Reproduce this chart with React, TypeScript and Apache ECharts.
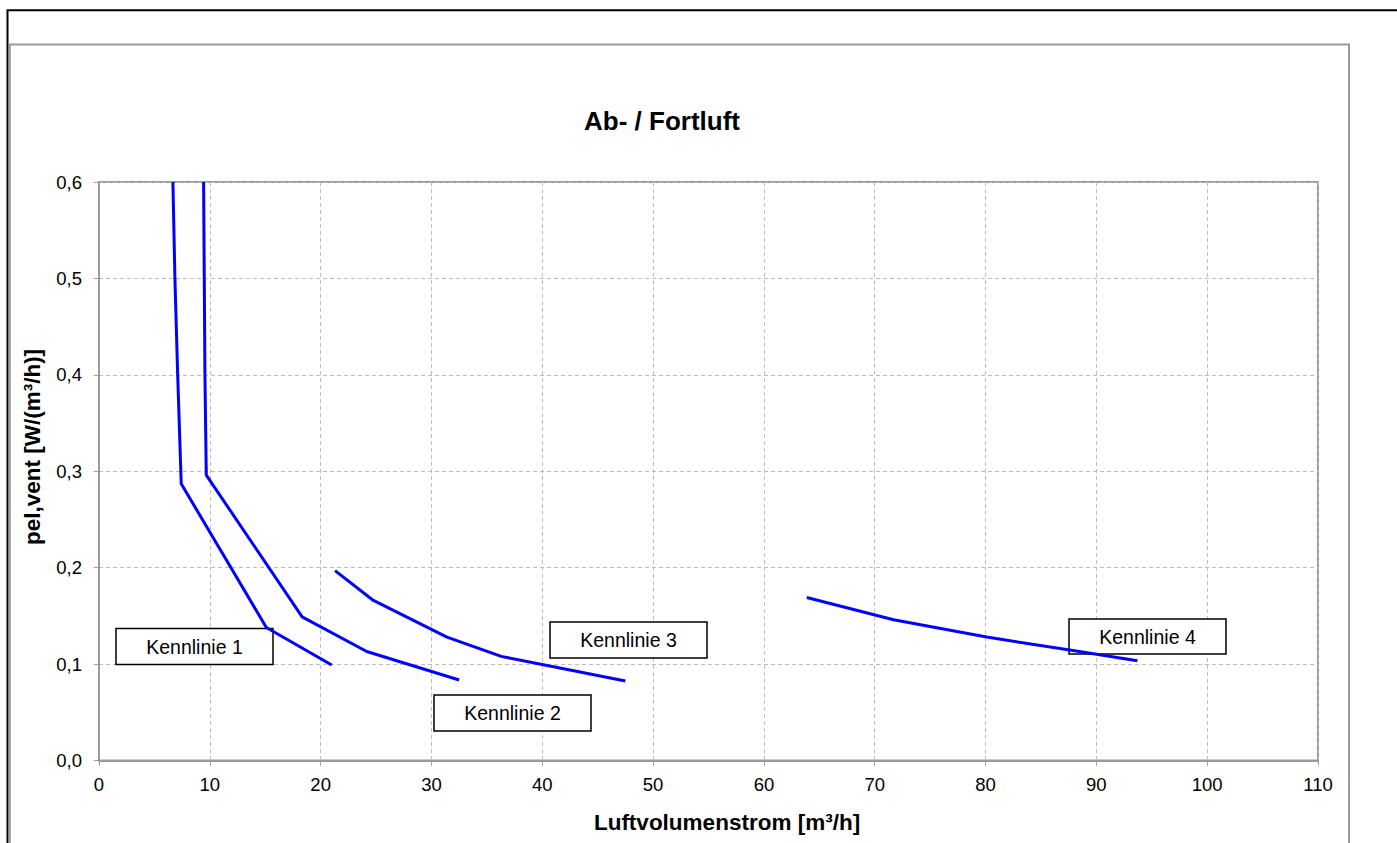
import React, { useEffect, useRef } from "react";
import * as echarts from "echarts";

const FONT = "'Liberation Sans', Arial, sans-serif";

const TITLE = "Ab- / Fortluft";
const X_NAME = "Luftvolumenstrom [m³/h]";
const Y_NAME = "pel,vent [W/(m³/h)]";

const kennlinie1: [number, number][] = [
  [6.67, 0.6], [6.85, 0.5], [7.1, 0.4], [7.42, 0.287], [15.1, 0.138], [21.0, 0.099],
];
const kennlinie2: [number, number][] = [
  [9.44, 0.6], [9.5, 0.5], [9.56, 0.4], [9.68, 0.296], [18.33, 0.149], [24.16, 0.113], [32.5, 0.0835],
];
const kennlinie3: [number, number][] = [
  [21.3, 0.197], [24.76, 0.166], [31.4, 0.128], [36.3, 0.108], [41.7, 0.0956], [47.5, 0.0825],
];
const kennlinie4: [number, number][] = [
  [63.87, 0.169], [71.7, 0.146], [80.1, 0.128], [87.6, 0.1146], [93.7, 0.1035],
];

const labelNames = ["Kennlinie 1", "Kennlinie 2", "Kennlinie 3", "Kennlinie 4"];
const labelBoxes = [
  { x: 116, y: 628.5, w: 157, h: 36 },
  { x: 434, y: 695, w: 157, h: 36 },
  { x: 550, y: 622, w: 157, h: 36 },
  { x: 1069, y: 619, w: 157, h: 35 },
];

export default function App() {
  const ref = useRef<HTMLDivElement>(null);
  useEffect(() => {
    if (!ref.current) return;
    const chart = echarts.init(ref.current, undefined, { renderer: "svg" });
    const lineSeries = (name: string, data: [number, number][]) => ({
      name,
      type: "line",
      data,
      showSymbol: false,
      symbol: "none",
      z: 5,
      lineStyle: { color: "#0000ff", width: 3 },
      clip: true,
    });
    const labelGraphics = labelNames.map((t, i) => {
      const b = labelBoxes[i];
      return {
        type: "group",
        x: b.x,
        y: b.y,
        z: 1,
        children: [
          {
            type: "rect",
            z: 1,
            shape: { x: 0, y: 0, width: b.w, height: b.h },
            style: { fill: "#fff", stroke: "#000", lineWidth: 1.5 },
          },
          {
            type: "text",
            z: 1,
            x: b.w / 2,
            y: b.h / 2,
            style: {
              text: t,
              fontFamily: FONT,
              fontSize: 19.5,
              fill: "#000",
              align: "center",
              verticalAlign: "middle",
            },
          },
        ],
      };
    });
    chart.setOption({
      animation: false,
      backgroundColor: "#fff",
      grid: {
        left: 99,
        top: 182,
        right: 79,
        bottom: 82.5,
        show: true,
        borderColor: "#9a9a9a",
        borderWidth: 2,
      },
      xAxis: {
        type: "value",
        min: 0,
        max: 110,
        interval: 10,
        axisLine: { show: true, lineStyle: { color: "#9a9a9a", width: 2 } },
        axisTick: { show: true, length: 5, lineStyle: { color: "#9a9a9a" } },
        axisLabel: { color: "#000", fontFamily: FONT, fontSize: 18.5, margin: 14 },
        splitLine: { show: true, lineStyle: { color: "#bdbdbd", type: [4, 3], width: 1 } },
      },
      yAxis: {
        type: "value",
        min: 0,
        max: 0.6,
        interval: 0.1,
        axisLine: { show: true, lineStyle: { color: "#9a9a9a", width: 2 } },
        axisTick: { show: true, length: 5, lineStyle: { color: "#9a9a9a" } },
        axisLabel: {
          color: "#000",
          fontFamily: FONT,
          fontSize: 18.5,
          margin: 17,
          formatter: (v: number) => v.toFixed(1).replace(".", ","),
        },
        splitLine: { show: true, lineStyle: { color: "#bdbdbd", type: [4, 3], width: 1 } },
      },
      series: [
        lineSeries("Kennlinie 1", kennlinie1),
        lineSeries("Kennlinie 2", kennlinie2),
        lineSeries("Kennlinie 3", kennlinie3),
        lineSeries("Kennlinie 4", kennlinie4),
      ],
      graphic: [
        {
          type: "rect",
          shape: { x: 7.5, y: 10.3, width: 1500, height: 1000 },
          style: { fill: "none", stroke: "#000", lineWidth: 2 },
          silent: true,
        },
        {
          type: "rect",
          shape: { x: 9.8, y: 44.5, width: 1339.2, height: 1000 },
          style: { fill: "none", stroke: "#9a9a9a", lineWidth: 2 },
          silent: true,
        },
        {
          type: "text",
          x: 662,
          y: 121,
          style: {
            text: TITLE,
            fontFamily: FONT,
            fontWeight: "bold",
            fontSize: 26,
            fill: "#000",
            align: "center",
            verticalAlign: "middle",
          },
        },
        {
          type: "text",
          x: 727,
          y: 822,
          style: {
            text: X_NAME,
            fontFamily: FONT,
            fontWeight: "bold",
            fontSize: 22.5,
            fill: "#000",
            align: "center",
            verticalAlign: "middle",
          },
        },
        {
          type: "text",
          x: 32,
          y: 447,
          rotation: Math.PI / 2,
          style: {
            text: Y_NAME,
            fontFamily: FONT,
            fontWeight: "bold",
            fontSize: 22.5,
            fill: "#000",
            align: "center",
            verticalAlign: "middle",
          },
        },
        ...labelGraphics,
      ],
    });
    return () => chart.dispose();
  }, []);
  return (
    <div
      ref={ref}
      style={{ position: "absolute", left: 0, top: 0, width: 1397, height: 843, background: "#fff" }}
    />
  );
}
